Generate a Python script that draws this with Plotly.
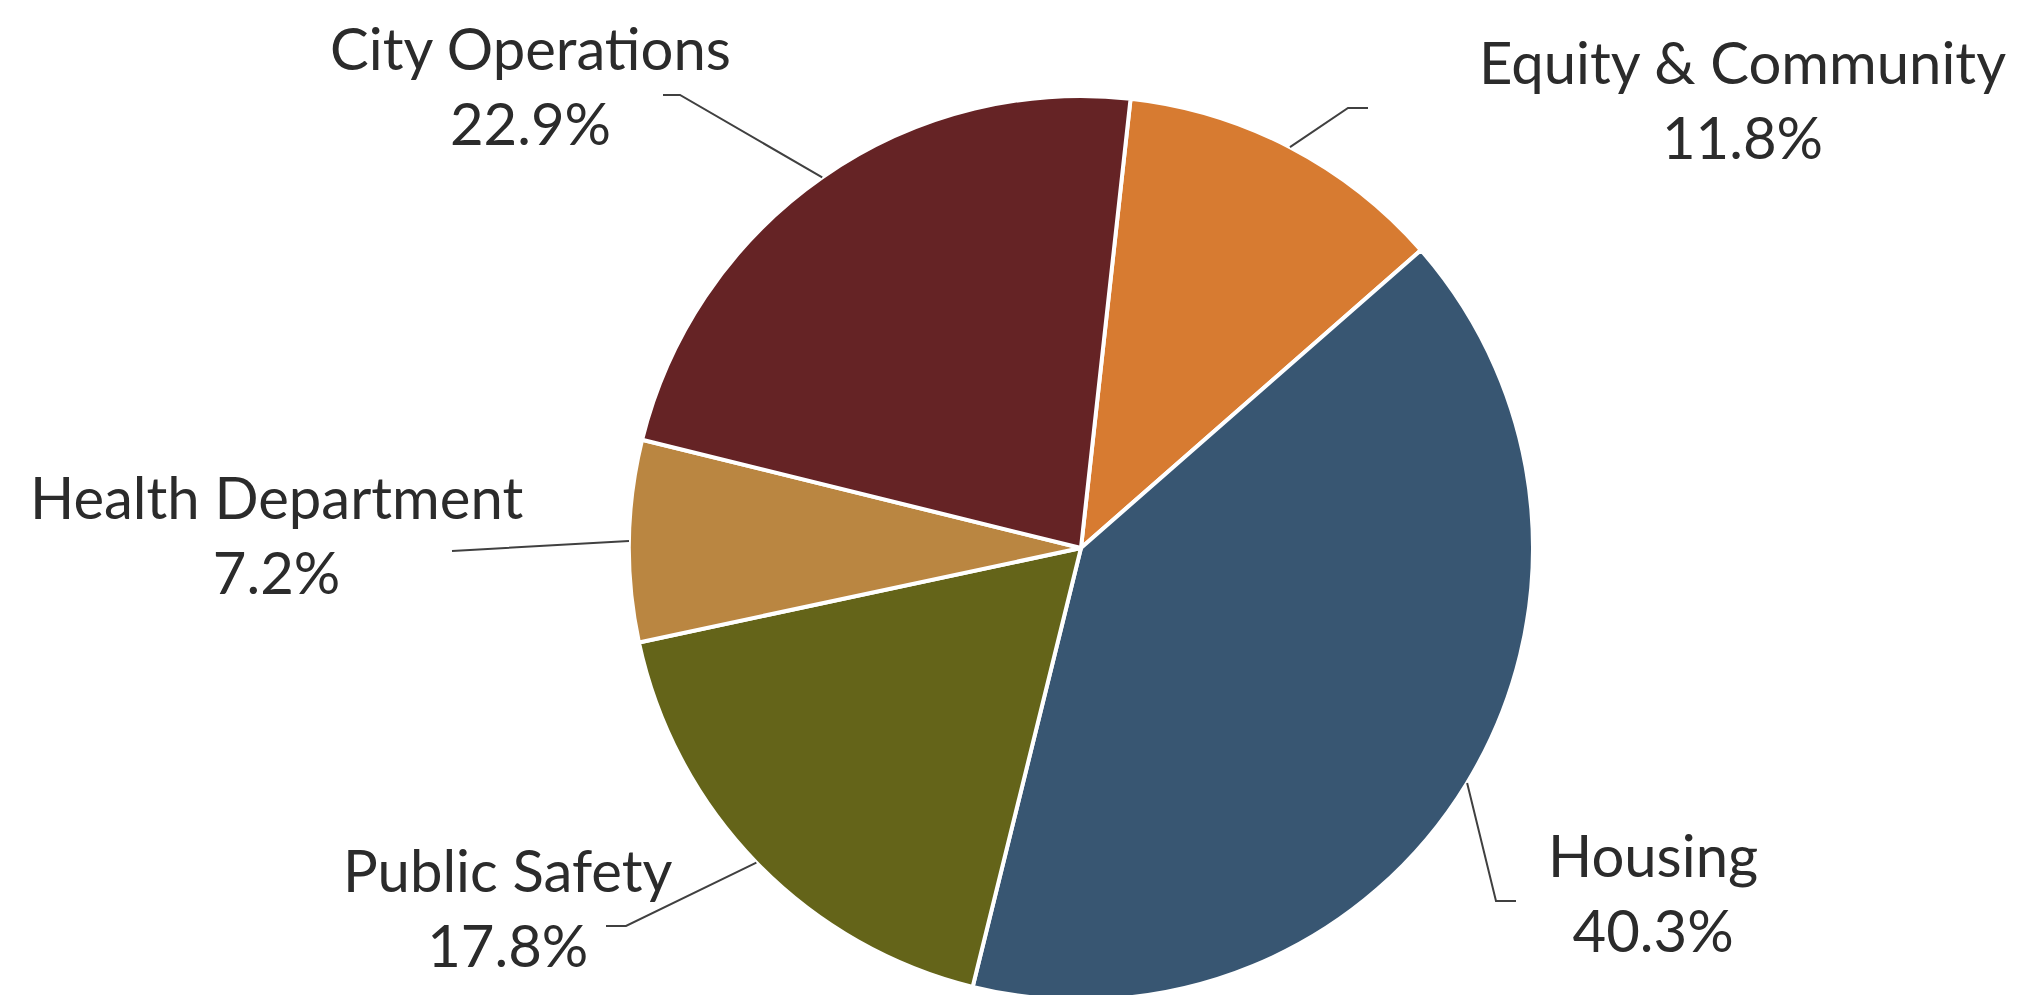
import math
import plotly.graph_objects as go

# ---- data ----
categories = ["Equity & Community", "Housing", "Public Safety", "Health Department", "City Operations"]
shares = [11.8, 40.3, 17.8, 7.2, 22.9]
slice_colors = ["#D77B31", "#385672", "#646419", "#BA8641", "#652325"]

# ---- layout constants ----
W, H = 2018, 995
ROTATION = 6.3
DOMAIN_X = [0.3077, 0.7557]
DOMAIN_Y = [0.003, 0.9116]
FONT = dict(family="Lato, 'Liberation Sans', Arial, sans-serif", size=58, color="#2b2b2b")
LINE_COLOR = "#404040"

# label layout in pixels: text centre, leader knee, leader end
label_text_xy = {
    "Equity & Community": (1734, 91),
    "Housing": (1645, 884),
    "Public Safety": (500, 899),
    "Health Department": (268, 526),
    "City Operations": (522, 77),
}
leader_knee = {
    "Equity & Community": (1340, 100),
    "Housing": (1488, 893),
    "Public Safety": (618, 918),
    "Health Department": (462, 542),
    "City Operations": (672, 87),
}
leader_end = {
    "Equity & Community": (1360, 100),
    "Housing": (1508, 893),
    "Public Safety": (598, 918),
    "Health Department": (444, 543),
    "City Operations": (655, 87),
}

fig = go.Figure(
    go.Pie(
        labels=categories,
        values=shares,
        sort=False,
        direction="clockwise",
        rotation=ROTATION,
        marker=dict(colors=slice_colors, line=dict(color="white", width=4)),
        textinfo="none",
        hoverinfo="label+percent",
        domain=dict(x=DOMAIN_X, y=DOMAIN_Y),
        showlegend=False,
    )
)

# pie geometry in pixels (same as plotly's own pie sizing with zero margins)
cx = (DOMAIN_X[0] + DOMAIN_X[1]) / 2 * W
box_h = (DOMAIN_Y[1] - DOMAIN_Y[0]) * H
cy = H * (1 - DOMAIN_Y[0]) - box_h / 2
r = min((DOMAIN_X[1] - DOMAIN_X[0]) * W, box_h) / 2

total = sum(shares)


def px(x, y):
    return x / W, 1 - y / H


shapes = []
annotations = []
cum = 0.0
for cat, val in zip(categories, shares):
    mid = ROTATION + (cum + val / 2) / total * 360.0
    cum += val
    th = math.radians(mid)
    ax = cx + r * math.sin(th)
    ay = cy - r * math.cos(th)
    p0 = px(ax, ay)
    p1 = px(*leader_knee[cat])
    p2 = px(*leader_end[cat])
    shapes.append(
        dict(
            type="path",
            xref="paper",
            yref="paper",
            path=f"M {p0[0]},{p0[1]} L {p1[0]},{p1[1]} L {p2[0]},{p2[1]}",
            line=dict(color=LINE_COLOR, width=2),
        )
    )
    tx, ty = px(*label_text_xy[cat])
    annotations.append(
        dict(
            x=tx,
            y=ty,
            xref="paper",
            yref="paper",
            text=f"{cat}<br>{val / total * 100:.1f}%",
            showarrow=False,
            xanchor="center",
            yanchor="middle",
            align="center",
            font=FONT,
        )
    )

fig.update_layout(
    width=W,
    height=H,
    margin=dict(l=0, r=0, t=0, b=0),
    paper_bgcolor="white",
    plot_bgcolor="white",
    shapes=shapes,
    annotations=annotations,
    font=FONT,
)

fig.write_html("out.html")
